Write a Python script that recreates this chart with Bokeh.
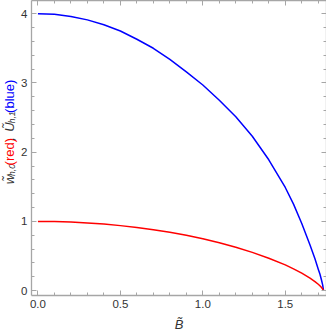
from bokeh.plotting import figure
from bokeh.models import LinearAxis, Range1d, FixedTicker
from bokeh.layouts import row
from bokeh.core.properties import value
from bokeh.embed import file_html
from bokeh.resources import INLINE

# ---- data ----
b_tilde   = [0.0, 0.1, 0.2, 0.3, 0.4, 0.5, 0.6, 0.7, 0.8, 0.9, 1.0, 1.1, 1.2, 1.3, 1.4, 1.5,
             1.55, 1.6, 1.65, 1.68, 1.7, 1.71, 1.72, 1.727, 1.732]
u_h1_blue = [4.0, 3.99, 3.96, 3.91, 3.84, 3.75, 3.63, 3.50, 3.34, 3.16, 2.97, 2.75, 2.51, 2.23, 1.89, 1.49,
             1.25, 0.97, 0.66, 0.46, 0.31, 0.24, 0.15, 0.08, 0.0]
w_h0_red  = [1.0, 0.998, 0.99, 0.978, 0.961, 0.939, 0.912, 0.88, 0.842, 0.80, 0.75, 0.692, 0.627, 0.553, 0.468, 0.372,
             0.315, 0.252, 0.181, 0.131, 0.093, 0.071, 0.046, 0.025, 0.0]
x_ticks = [0.0, 0.5, 1.0, 1.5]
x_tick_labels = {0.0: "0.0", 0.5: "0.5", 1.0: "1.0", 1.5: "1.5"}
y_ticks = [0, 1, 2, 3, 4]
x_minor = [round(0.1 * i, 1) for i in range(0, 18)]
y_minor = [round(0.2 * i, 1) for i in range(0, 22)]

FRAME = "#a6a6a6"
TXT = "#333333"
FONT = "Liberation Sans"
LAB_W = 18
H_FIG = 334
W_FIG = 326 - LAB_W
TOP, BOT, LEFT, RIGHT = 0, 38, 11, 0

p = figure(width=W_FIG, height=H_FIG, output_backend="svg", toolbar_location=None,
           x_range=Range1d(-0.039, 1.75), y_range=Range1d(-0.07, 4.19),
           min_border_left=LEFT, min_border_right=RIGHT, min_border_top=TOP, min_border_bottom=BOT,
           x_axis_location=None, y_axis_location=None)
p.grid.visible = False
p.outline_line_color = None
p.background_fill_color = "white"
p.border_fill_color = "white"

def style(ax, labels=True):
    ax.axis_line_color = FRAME
    ax.axis_line_width = 1.3
    ax.major_tick_line_color = FRAME
    ax.minor_tick_line_color = FRAME
    ax.major_tick_in = 5
    ax.major_tick_out = 0
    ax.minor_tick_in = 3
    ax.minor_tick_out = 0
    ax.major_label_text_font = FONT
    ax.major_label_text_color = TXT
    ax.major_label_text_font_size = "11.5px"
    ax.major_label_standoff = 4 if labels else 0

xt = FixedTicker(ticks=x_ticks, minor_ticks=x_minor)
yt = FixedTicker(ticks=y_ticks, minor_ticks=y_minor)

bottom = LinearAxis(ticker=xt, major_label_overrides=x_tick_labels)
style(bottom)
bottom.axis_label = "B\u0303"
bottom.axis_label_text_font = FONT
bottom.axis_label_text_font_style = "italic"
bottom.axis_label_text_font_size = "13px"
bottom.axis_label_text_color = TXT
bottom.axis_label_standoff = 6
p.add_layout(bottom, "below")

top = LinearAxis(ticker=xt, major_label_overrides={t: "" for t in x_ticks})
style(top, labels=False)
p.add_layout(top, "above")

left = LinearAxis(ticker=yt)
style(left)
p.add_layout(left, "left")

right = LinearAxis(ticker=yt, major_label_overrides={t: "" for t in y_ticks})
style(right, labels=False)
p.add_layout(right, "right")

p.line(b_tilde, u_h1_blue, line_color="#0000ff", line_width=1.5, line_join="round")
p.line(b_tilde, w_h0_red, line_color="#ff0000", line_width=1.5, line_join="round")

# ---- narrow panel holding the rotated multi-colour y label ----
q = figure(width=LAB_W, height=H_FIG, output_backend="svg", toolbar_location=None,
           x_range=Range1d(0, LAB_W), y_range=Range1d(0, H_FIG),
           min_border=0, x_axis_location=None, y_axis_location=None)
q.grid.visible = False
q.outline_line_color = None
q.background_fill_color = "white"
q.border_fill_color = "white"

W = {"w": .722, "h": .556, ",": .278, "0": .556, "1": .556, "(": .333, "r": .333,
     "e": .556, "d": .556, ")": .333, " ": .278, "\u0168": .722, "b": .556, "l": .222,
     "u": .556, "\u0303": 0.0}
fs, sfs = 13.0, 8.5
pieces = [("w\u0303", "italic", TXT, fs, 0), ("h,0", "italic", TXT, sfs, 1),
          ("(red)", "normal", "#ff0000", fs, 0), (" , ", "normal", TXT, fs, 0),
          ("\u0168", "italic", TXT, fs, 0), ("h,1", "italic", TXT, sfs, 1),
          ("(blue)", "normal", "#0000ff", fs, 0)]
total = sum(sum(W.get(c, .55) for c in t) * s for t, _, _, s, _ in pieces)
frame_h = H_FIG - TOP - BOT
y0 = BOT + frame_h / 2 - 3 - total / 2
xc = 9
for t, st, col, s, sub in pieces:
    q.text(x=[xc + (2.5 if sub else 0)], y=[y0], text=[t], angle=1.5707963,
           text_font=value(FONT), text_font_style=st, text_color=col,
           text_font_size=f"{s}px", text_align="left", text_baseline="middle")
    y0 += sum(W.get(c, .55) for c in t) * s

layout = row(q, p)
open("out.html", "w").write(file_html(layout, INLINE))
